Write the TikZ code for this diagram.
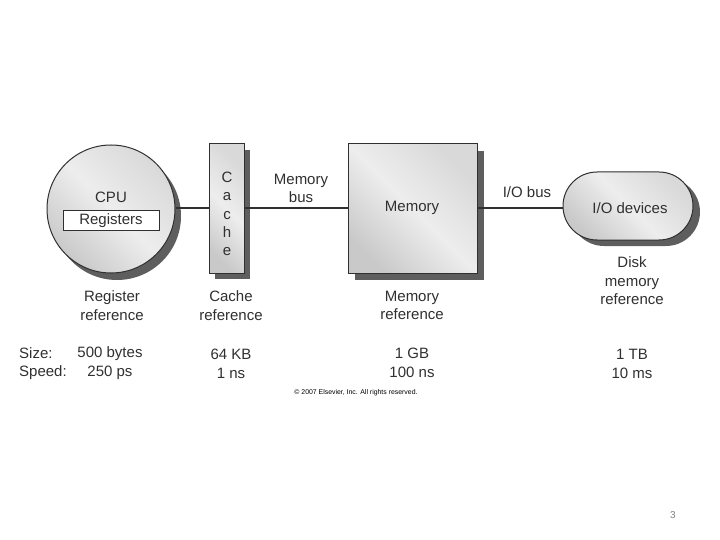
\documentclass[tikz,border=0pt]{standalone}
\usepackage{fontspec}
\setmainfont{Liberation Sans}
\definecolor{txt}{HTML}{303030}
\definecolor{shad}{HTML}{5E5E5E}
\begin{document}
\begin{tikzpicture}[x=1pt,y=-1pt,
  every node/.style={text=txt, font=\fontsize{15}{18}\selectfont},
  box/.style={draw=txt, line width=1pt, shading=axis, left color=gray!42, right color=gray!30, middle color=gray!14, shading angle=135},
  shadowbox/.style={fill=shad},
  wire/.style={draw=txt, line width=1.4pt},
  lbl/.style={align=center, inner sep=0pt}]
\useasboundingbox[fill=white] (0,0) rectangle (720,540);
% shadows
\fill[shadowbox] (117,216) circle (64);
\fill[shadowbox] (215,150) rectangle (250,279);
\fill[shadowbox] (355,151) rectangle (484,280);
\fill[shadowbox, rounded corners=34] (570,178) rectangle (700,246);
% shapes
\node[box, circle, minimum size=128, inner sep=0pt] (cpu) at (111,209) {};
\node[box, minimum width=35, minimum height=129, inner sep=0pt] (cache) at (226.5,208.5) {};
\node[box, minimum width=129, minimum height=129, inner sep=0pt] (mem) at (412.5,208.5) {};
\node[box, rounded corners=34, minimum width=130, minimum height=68, inner sep=0pt] (io) at (628,206) {};
\draw[wire] (cpu.east |- 0,208) -- (cache.west |- 0,208);
\draw[wire] (cache.east |- 0,208) -- (mem.west |- 0,208);
\draw[wire] (mem.east |- 0,208) -- (io.west |- 0,208);
% texts
\node (cputxt) at (111,197) {CPU};
\node[draw=txt, fill=white, line width=1pt, minimum width=96, minimum height=20, inner sep=0pt] (reg) at (111,221) {Registers};
\node[lbl, font=\fontsize{15}{18.3}\selectfont] (cachetxt) at (227,214) {C\\a\\c\\h\\e};
\node[lbl] (membus) at (301,188.5) {Memory\\bus};
\node (memtxt) at (412,208) {Memory};
\node (iobus) at (527,192) {I/O bus};
\node (iotxt) at (630,208) {I/O devices};
\node[lbl, font=\fontsize{15}{18.5}\selectfont] (disk) at (632,281) {Disk\\memory\\reference};
\node[lbl, font=\fontsize{15}{18.5}\selectfont] (regref) at (112,305.5) {Register\\reference};
\node[lbl, font=\fontsize{15}{18.5}\selectfont] (cacheref) at (231,305.5) {Cache\\reference};
\node[lbl, font=\fontsize{15}{18.5}\selectfont] (memref) at (412,305.5) {Memory\\reference};
\node[anchor=west, inner sep=0pt] (size) at (19,353.5) {Size:};
\node[anchor=west, inner sep=0pt] (speed) at (19,372.5) {Speed:};
\node[lbl, font=\fontsize{15}{19}\selectfont] (v1) at (110,363.5) {500 bytes\\250 ps};
\node[lbl, font=\fontsize{15}{19}\selectfont] (v2) at (231,363.5) {64 KB\\1 ns};
\node[lbl, font=\fontsize{15}{19}\selectfont] (v3) at (412,362.5) {1 GB\\100 ns};
\node[lbl, font=\fontsize{15}{19}\selectfont] (v4) at (632,363.5) {1 TB\\10 ms};
\node[font=\fontsize{6.9}{8}\selectfont, text=black] (copy) at (356,393) {\textcopyright\ 2007 Elsevier, Inc. All rights reserved.};
\node[font=\fontsize{10}{12}\selectfont, text=gray] (page) at (673,515) {3};
\end{tikzpicture}
\end{document}
